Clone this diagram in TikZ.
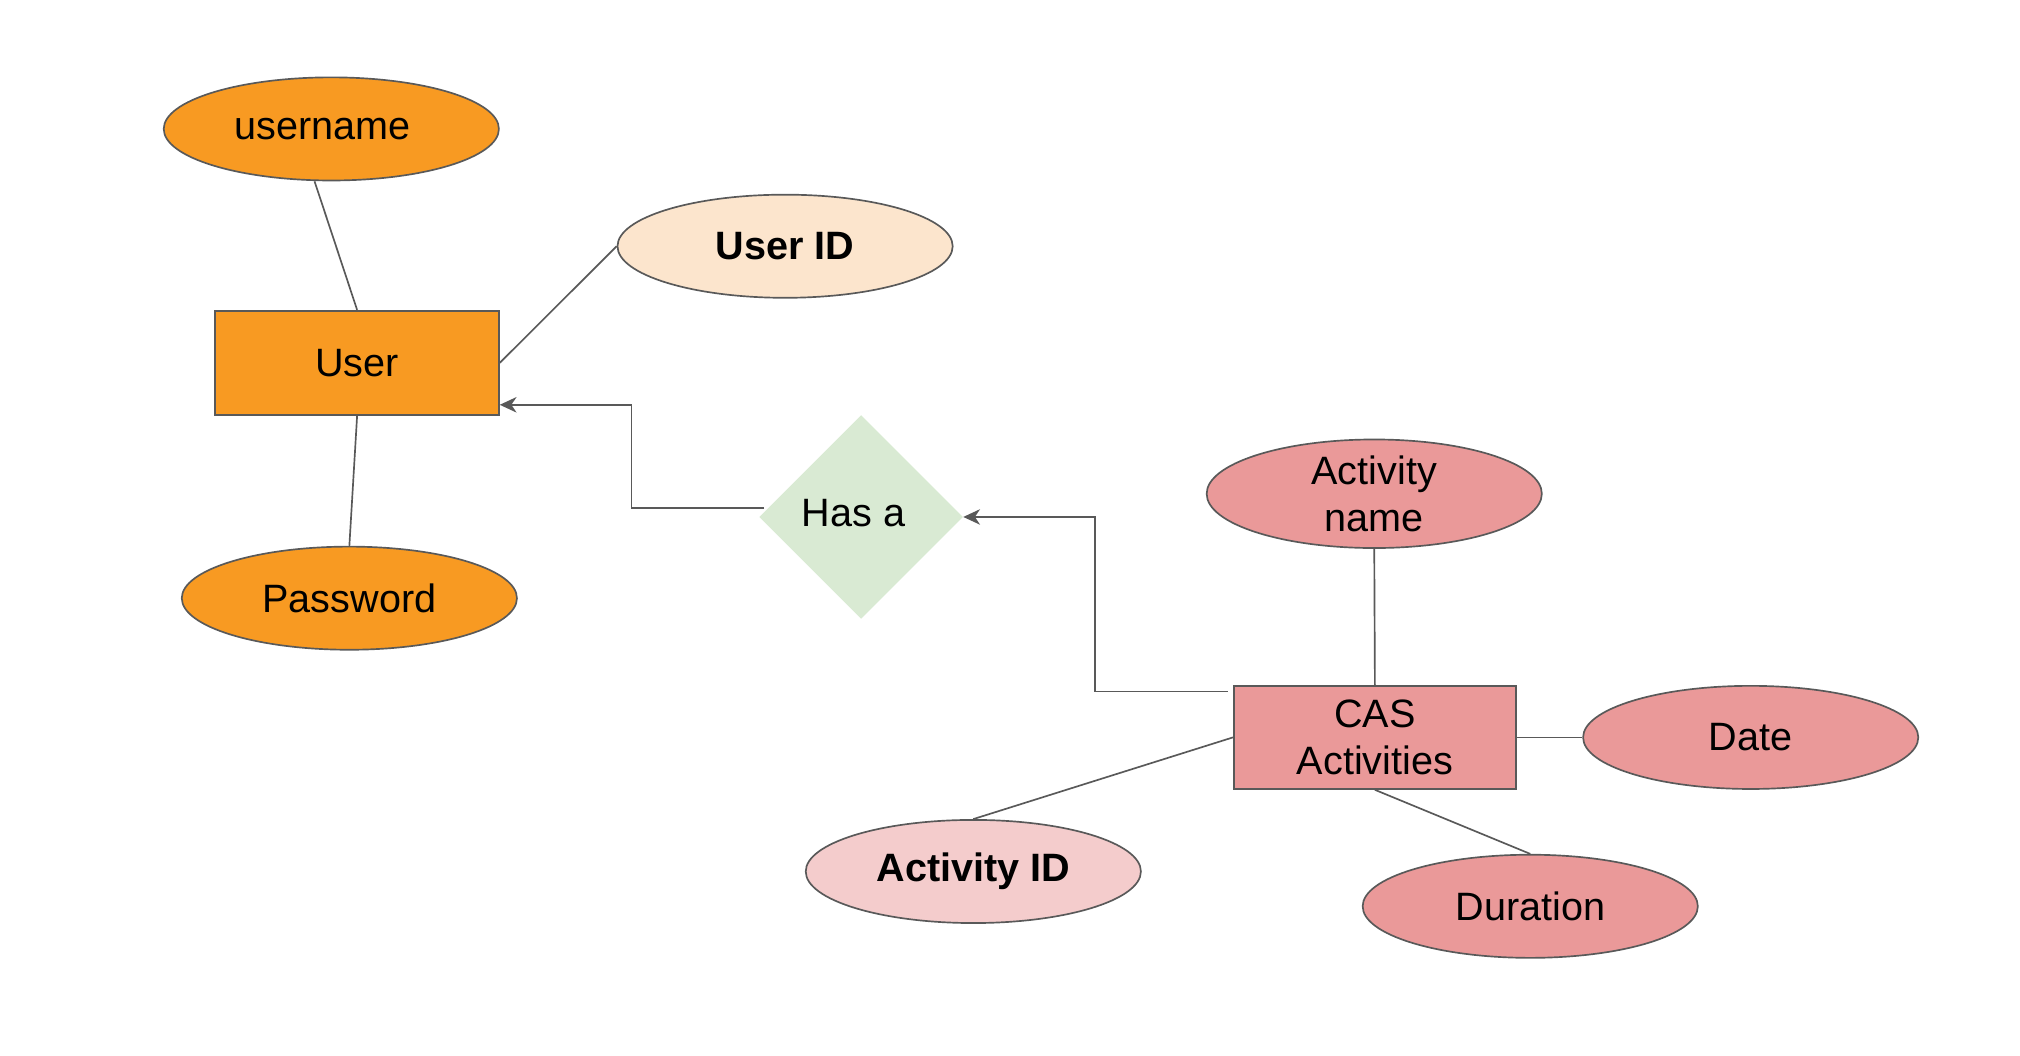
\documentclass[tikz,border=0pt]{standalone}
\usepackage{fontspec}
\setmainfont{Liberation Sans}
\usetikzlibrary{shapes.geometric,arrows.meta}
\definecolor{ornge}{HTML}{F89A22}
\definecolor{lightornge}{HTML}{FCE5CD}
\definecolor{pinkk}{HTML}{EA9999}
\definecolor{lightpinkk}{HTML}{F4CCCC}
\definecolor{greenn}{HTML}{D9EAD3}
\definecolor{edgegray}{HTML}{595959}
\tikzset{
  attr/.style={ellipse, draw=edgegray, line width=1.3pt, minimum width=260pt, minimum height=80pt, inner sep=0pt, align=center},
  entity/.style={rectangle, draw=edgegray, line width=1.3pt, minimum width=220pt, minimum height=81pt, inner sep=0pt, align=center},
  rel/.style={diamond, aspect=1, minimum size=158pt, inner sep=0pt, fill=greenn},
  conn/.style={draw=edgegray, line width=1.3pt},
  arr/.style={conn, -{Stealth[length=13pt,width=12pt,inset=4pt]}},
  lbl/.style={font=\fontsize{30.7}{37}\selectfont}
}
\begin{document}
\begin{tikzpicture}[x=1pt,y=-1pt]
\useasboundingbox (0,0) rectangle (1566.9,819.1);
\node[attr, fill=ornge, lbl] (username) at (257,100) {};
\node[lbl] (usernamelbl) at (250,100) {username};
\node[attr, fill=lightornge, lbl, font=\fontsize{30.7}{37}\selectfont\bfseries] (userid) at (609,191) {User ID};
\node[entity, fill=ornge, lbl] (user) at (277,281.5) {User};
\node[attr, fill=ornge, lbl] (password) at (271,464) {Password};
\node[rel, lbl] (has) at (668,401) {};
\node[lbl] (haslbl) at (662,398) {Has a};
\node[attr, fill=pinkk, lbl] (actname) at (1066,383) {Activity\\name};
\node[entity, fill=pinkk, lbl, minimum width=219pt, minimum height=80pt] (cas) at (1066.5,572) {CAS\\Activities};
\node[attr, fill=pinkk, lbl] (date) at (1358,572) {Date};
\node[attr, fill=lightpinkk, lbl, font=\fontsize{30.7}{37}\selectfont\bfseries] (actid) at (755,676) {Activity ID};
\node[attr, fill=pinkk, lbl] (duration) at (1187,703) {Duration};

\draw[conn] ([xshift=-13pt]username.south) -- (user.north);
\draw[conn] (user.east) -- (userid.west);
\draw[conn] (user.south) -- (password.north);
\draw[arr] ([xshift=4pt,yshift=7pt]has.west) -- ++(-103,0) |- ([yshift=-32.5pt]user.east);
\draw[arr] ([xshift=-4pt,yshift=-5pt]cas.north west) -- ++(-103,0) |- (has.east);
\draw[conn] (actname.south) -- (cas.north);
\draw[conn] (cas.east) -- (date.west);
\draw[conn] (cas.west) -- (actid.north);
\draw[conn] (cas.south) -- (duration.north);
\end{tikzpicture}
\end{document}
